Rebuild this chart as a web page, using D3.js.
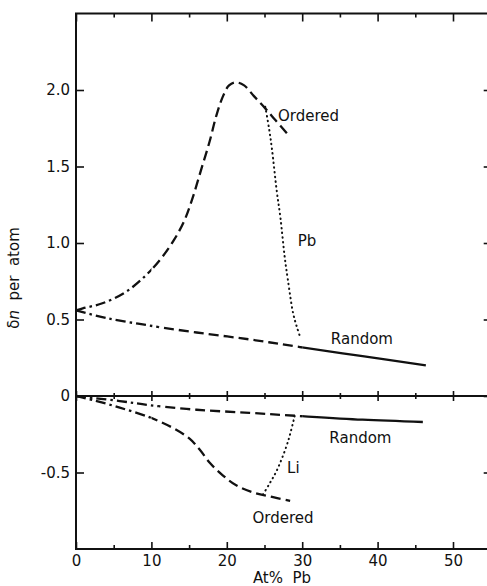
<!DOCTYPE html>
<html>
<head>
<meta charset="utf-8">
<script src="https://cdn.jsdelivr.net/npm/d3@7"></script>
<style>
  body { margin: 0; background: #fff; }
  text { font-family: "DejaVu Sans", sans-serif; fill: #111; }
</style>
</head>
<body>
<div id="chart"></div>
<script>
// values (x = At% Pb, y = delta n per atom)
var xMajorTicks = [0, 10, 20, 30, 40, 50];
var xMinorTicks = [5, 15, 25, 35, 45];
var yTicks = [-0.5, 0, 0.5, 1.0, 1.5, 2.0];

var pbOrderedX = [0, 0.9, 3.5, 6.6, 9.3, 11.3, 13.0, 14.4, 15.5, 16.6, 17.7, 18.6, 19.5, 20.3, 21.2, 22.3, 23.6, 25.1, 26.5, 28.1];
var pbOrderedY = [0.56, 0.573, 0.606, 0.68, 0.79, 0.90, 1.02, 1.15, 1.30, 1.48, 1.66, 1.83, 1.96, 2.03, 2.05, 2.03, 1.96, 1.88, 1.80, 1.71];

var pbRandomX = [0, 4, 9.8, 16, 23, 29.7, 38, 46.4];
var pbRandomY = [0.56, 0.51, 0.46, 0.415, 0.37, 0.32, 0.26, 0.20];

var pbDropX = [25.1, 25.6, 26.0, 26.6, 27.1, 27.7, 28.1, 28.8, 29.3, 29.7];
var pbDropY = [1.89, 1.75, 1.61, 1.35, 1.17, 0.90, 0.76, 0.54, 0.45, 0.39];

var liRandomX = [0, 5.8, 9.8, 16, 23, 29.3, 38, 46];
var liRandomY = [0, -0.033, -0.06, -0.09, -0.11, -0.13, -0.155, -0.17];

var liOrderedX = [0, 2.5, 5.8, 9.8, 12.9, 15.1, 16.4, 17.8, 19.5, 21.3, 23.5, 26, 28.4];
var liOrderedY = [0, -0.03, -0.076, -0.14, -0.21, -0.28, -0.35, -0.44, -0.52, -0.585, -0.63, -0.66, -0.686];

var liDropX = [24.8, 25.7, 26.6, 27.9, 28.5, 29.0];
var liDropY = [-0.643, -0.57, -0.49, -0.33, -0.23, -0.13];

var W = 487, H = 586;
var svg = d3.select("#chart").append("svg").attr("width", W).attr("height", H);

var x = d3.scaleLinear().domain([0, 55]).range([76, 490.7]);
var y = d3.scaleLinear().domain([-1, 2.5]).range([549, 13.5]);

function pts(xs, ys) { return xs.map(function(d, i) { return [d, ys[i]]; }); }

var line = d3.line().x(function(d) { return x(d[0]); }).y(function(d) { return y(d[1]); }).curve(d3.curveCatmullRom.alpha(0.5));

// clip regions for the line style changes
var defs = svg.append("defs");
function clip(id, x0, x1) {
  defs.append("clipPath").attr("id", id).append("rect")
    .attr("x", x(x0)).attr("y", 0).attr("width", x(x1) - x(x0)).attr("height", H);
}
clip("c1", -1, 11); clip("c2", 11, 30); clip("c3", 30, 60);
clip("c4", -1, 10); clip("c5", 10, 60);

var dashDot = "10,4,2.5,4", dash = "10,5";

function drawCurve(data, parts) {
  parts.forEach(function(p) {
    svg.append("path").datum(data).attr("d", line)
      .attr("fill", "none").attr("stroke", "#111").attr("stroke-width", 2.3)
      .attr("stroke-dasharray", p.dash).attr("clip-path", "url(#" + p.clip + ")");
  });
}

drawCurve(pts(pbRandomX, pbRandomY), [{clip: "c1", dash: dashDot}, {clip: "c2", dash: dash}, {clip: "c3", dash: null}]);
drawCurve(pts(liRandomX, liRandomY), [{clip: "c1", dash: dashDot}, {clip: "c2", dash: dash}, {clip: "c3", dash: null}]);
drawCurve(pts(pbOrderedX, pbOrderedY), [{clip: "c4", dash: dashDot}, {clip: "c5", dash: dash}]);
drawCurve(pts(liOrderedX, liOrderedY), [{clip: "c4", dash: dashDot}, {clip: "c5", dash: dash}]);

[pts(pbDropX, pbDropY), pts(liDropX, liDropY)].forEach(function(d) {
  svg.append("path").datum(d).attr("d", line)
    .attr("fill", "none").attr("stroke", "#111").attr("stroke-width", 2)
    .attr("stroke-linecap", "round").attr("stroke-dasharray", "0.5,4.2");
});

// axes
function styleAxis(g) {
  g.selectAll("line").attr("stroke", "#111").attr("stroke-width", 1.6);
  g.selectAll("path").remove();
  g.selectAll("text").attr("font-size", 15).style("fill", "#111");
}
var fmt = function(d) { return d === 0 ? "0" : d3.format(".1f")(d).replace("\u2212", "-"); };

svg.append("g").attr("transform", "translate(0," + y(-1) + ")")
  .call(d3.axisBottom(x).tickValues(xMajorTicks).tickSize(-7).tickPadding(6).tickFormat(d3.format("d"))).call(styleAxis);
svg.append("g").attr("transform", "translate(0," + y(-1) + ")")
  .call(d3.axisBottom(x).tickValues(xMinorTicks).tickSize(-4).tickFormat("")).call(styleAxis);
svg.append("g").attr("transform", "translate(0," + y(2.5) + ")")
  .call(d3.axisTop(x).tickValues(xMajorTicks).tickSize(-8).tickFormat("")).call(styleAxis);
svg.append("g").attr("transform", "translate(0," + y(2.5) + ")")
  .call(d3.axisTop(x).tickValues(xMinorTicks).tickSize(-4).tickFormat("")).call(styleAxis);
// middle zero line, ticks crossing
[d3.axisTop, d3.axisBottom].forEach(function(ax) {
  svg.append("g").attr("transform", "translate(0," + y(0) + ")")
    .call(ax(x).tickValues(xMajorTicks).tickSize(5).tickFormat("")).call(styleAxis);
  svg.append("g").attr("transform", "translate(0," + y(0) + ")")
    .call(ax(x).tickValues(xMinorTicks).tickSize(3).tickFormat("")).call(styleAxis);
});
svg.append("g").attr("transform", "translate(" + x(0) + ",0)")
  .call(d3.axisLeft(y).tickValues(yTicks).tickSize(-8).tickPadding(6).tickFormat(fmt)).call(styleAxis);
svg.append("g").attr("transform", "translate(" + x(55) + ",0)")
  .call(d3.axisRight(y).tickValues(yTicks).tickSize(-7).tickFormat("")).call(styleAxis);

svg.append("rect").attr("x", x(0)).attr("y", y(2.5)).attr("width", x(55) - x(0)).attr("height", y(-1) - y(2.5))
  .attr("fill", "none").attr("stroke", "#111").attr("stroke-width", 2);
svg.append("line").attr("x1", x(0)).attr("x2", x(55)).attr("y1", y(0)).attr("y2", y(0))
  .attr("stroke", "#111").attr("stroke-width", 2);

// curve labels
function label(t, xv, yv) {
  svg.append("text").attr("x", x(xv)).attr("y", y(yv)).attr("font-size", 15).text(t);
}
label("Ordered", 26.8, 1.8);
label("Pb", 29.4, 0.98);
label("Random", 33.8, 0.34);
label("Random", 33.6, -0.31);
label("Li", 28, -0.5);
label("Ordered", 23.4, -0.83);

// axis titles
svg.append("text").attr("x", 282).attr("y", 583).attr("text-anchor", "middle").attr("font-size", 15)
  .style("white-space", "pre").text("At%  Pb");
var yl = svg.append("text").attr("transform", "translate(19,278) rotate(-90)").attr("text-anchor", "middle")
  .attr("font-size", 15).style("white-space", "pre");
yl.append("tspan").text("\u03b4");
yl.append("tspan").attr("font-style", "italic").text("n");
yl.append("tspan").text("  per  atom");
</script>
</body>
</html>
